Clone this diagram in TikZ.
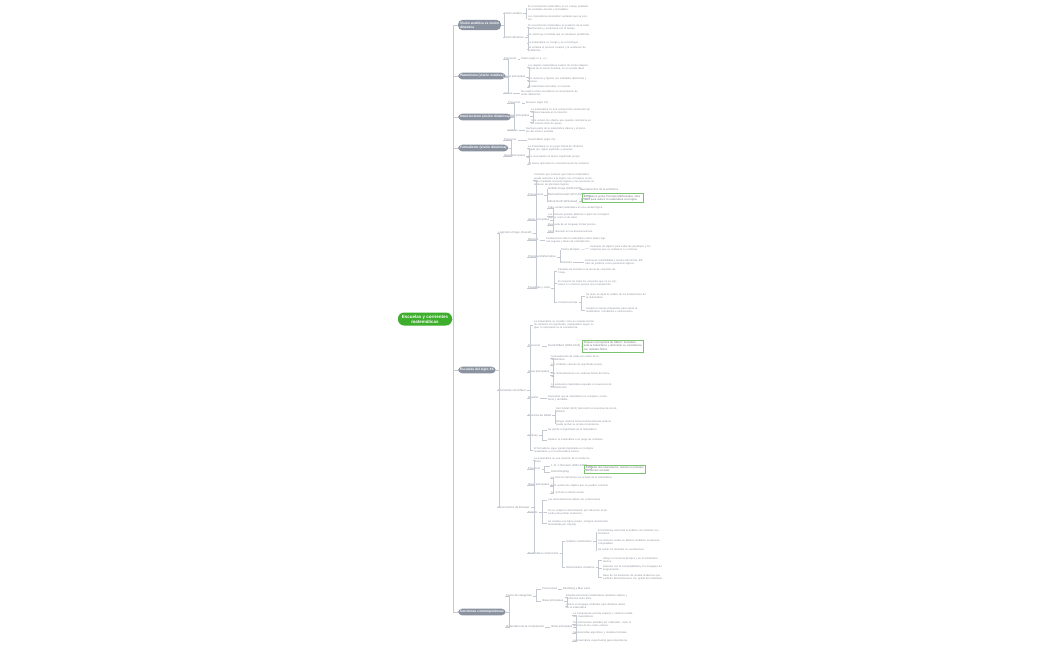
\documentclass[tikz,border=0pt]{standalone}
\usepackage{fontspec}
\setmainfont{Liberation Sans}
\definecolor{mainc}{HTML}{8B93A1}
\definecolor{txt}{HTML}{8A8F98}
\definecolor{lnc}{HTML}{C5CAD2}
\definecolor{rootc}{HTML}{3DAE2B}
\definecolor{boxc}{HTML}{7CC46F}
\begin{document}
\begin{tikzpicture}[x=1pt,y=-1pt,
 conn/.style={draw=lnc,line width=0.4pt},
 root/.style={fill=rootc,text=white,font=\fontsize{4.5}{5.2}\selectfont\bfseries,rounded corners=6pt,minimum width=54pt,minimum height=13pt,align=center,inner sep=2pt},
 main/.style={anchor=west,fill=mainc,text=white,font=\fontsize{3.3}{4}\selectfont\bfseries,rounded corners=4pt,inner sep=1.8pt,align=left},
 sub/.style={anchor=west,text=txt,font=\fontsize{2.8}{3.3}\selectfont,inner sep=1pt,align=left},
 leaf/.style={anchor=west,text=txt,font=\fontsize{2.6}{3.2}\selectfont,inner sep=1pt,align=left,text width=62pt},
 box/.style={anchor=west,draw=boxc,text=txt!80!black,font=\fontsize{2.7}{3.3}\selectfont,inner sep=1.5pt,align=left,text width=58pt,line width=0.5pt}]
\useasboundingbox (0,0) rectangle (1050,650);
\newcommand\nd[5]{\node[#1] (#2) at (#3,#4) {#5};}
\newcommand\cn[2]{\draw[conn] (#1.east) -- ++(3,0) |- (#2.west);}
\newcommand\cc[2]{\draw[conn] (#1.east) -- (#2.west);}
% root
\nd{root}{root}{425}{319}{Escuelas y corrientes\\matemáticas}
% main
\nd{main}{m1}{458}{25}{Visión analítica vs visión\\dinámica}
\nd{main}{m2}{458}{76}{Platonismo (visión estática)}
\nd{main}{m3}{458}{117}{Intuicionismo (visión dinámica)}
\nd{main}{m4}{458}{148}{Formalismo (visión dinámica)}
\nd{main}{m5}{458}{370}{Escuelas del siglo XX}
\nd{main}{m6}{458}{612}{Corrientes contemporáneas}
\foreach \m in {m1,m2,m3,m4,m5,m6}{\draw[conn] (root.east) -- (453,319) |- (\m.west);}
% branch 1
\nd{sub}{a1}{503}{13}{Visión estática}
\nd{sub}{a2}{503}{37}{Visión dinámica}
\cn{m1}{a1}\cn{m1}{a2}
\nd{leaf}{a11}{527}{8}{El conocimiento matemático es un cuerpo acabado de verdades eternas e inmutables.}
\nd{leaf}{a12}{527}{18}{Los matemáticos descubren verdades que ya existen.}
\cn{a1}{a11}\cn{a1}{a12}
\nd{leaf}{a21}{527}{27}{El conocimiento matemático es producto de la actividad humana y evoluciona con el tiempo.}
\nd{leaf}{a22}{527}{35}{Se construye a medida que se resuelven problemas.}
\nd{leaf}{a23}{527}{43}{La matemática se corrige y se reconstruye.}
\nd{leaf}{a24}{527}{49}{Se enfatiza el proceso creativo y la resolución de problemas.}
\cn{a2}{a21}\cn{a2}{a22}\cn{a2}{a23}\cn{a2}{a24}
% branch 2
\nd{sub}{b1}{503}{59}{Precursor}
\nd{sub}{b2}{503}{77}{Ideas principales}
\nd{sub}{b3}{503}{93}{Crítica}
\cn{m2}{b1}\cn{m2}{b2}\cn{m2}{b3}
\nd{leaf}{b11}{520}{59}{Platón (siglo IV a. C.)}\cc{b1}{b11}
\nd{leaf}{b21}{527}{67}{Los objetos matemáticos existen de forma independiente de la mente humana, en un mundo ideal.}
\nd{leaf}{b22}{527}{80}{Los números y figuras son entidades abstractas y eternas.}
\nd{leaf}{b23}{527}{87}{El matemático descubre, no inventa.}
\cn{b2}{b21}\cn{b2}{b22}\cn{b2}{b23}
\nd{leaf}{b31}{520}{93}{No explica cómo accedemos al conocimiento de entes abstractos.}\cc{b3}{b31}
% branch 3
\nd{sub}{c1}{507}{103}{Precursor}
\nd{sub}{c2}{507}{116}{Ideas principales}
\nd{sub}{c3}{507}{130}{Críticas}
\cn{m3}{c1}\cn{m3}{c2}\cn{m3}{c3}
\nd{leaf}{c11}{525}{103}{Brouwer (siglo XX)}\cc{c1}{c11}
\nd{leaf}{c21}{530}{111}{La matemática es una construcción mental del ser humano basada en la intuición.}
\nd{leaf}{c22}{530}{122}{Solo existen los objetos que pueden construirse en un número finito de pasos.}
\cn{c2}{c21}\cn{c2}{c22}
\nd{leaf}{c31}{525}{130}{Rechaza parte de la matemática clásica y el principio del tercero excluido.}\cc{c3}{c31}
% branch 4
\nd{sub}{d1}{503}{140}{Precursor}
\nd{sub}{d2}{503}{156}{Ideas principales}
\cn{m4}{d1}\cn{m4}{d2}
\nd{leaf}{d11}{527}{140}{David Hilbert (siglo XX)}\cc{d1}{d11}
\nd{leaf}{d21}{527}{148}{La matemática es un juego formal de símbolos regido por reglas explícitas y axiomas.}
\nd{leaf}{d22}{527}{157}{Los enunciados no tienen significado propio.}
\nd{leaf}{d23}{527}{164}{Se busca demostrar la consistencia de los sistemas.}
\cn{d2}{d21}\cn{d2}{d22}\cn{d2}{d23}
% branch 5
\nd{sub}{e1}{497}{233}{Logicismo (Frege, Russell)}
\nd{sub}{e2}{497}{390}{Formalismo de Hilbert}
\nd{sub}{e3}{497}{507}{Intuicionismo de Brouwer}
\cn{m5}{e1}\cn{m5}{e2}\cn{m5}{e3}
% e1
\nd{leaf}{e10}{533}{180}{Corriente que sostiene que toda la matemática puede reducirse a la lógica; sus conceptos se definen mediante nociones lógicas y sus teoremas se deducen de principios lógicos.}
\nd{sub}{e11}{527}{195}{Precursores}
\nd{sub}{e12}{527}{220}{Ideas principales}
\nd{sub}{e13}{527}{240}{Objetivo}
\nd{sub}{e14}{527}{257}{Principia Mathematica}
\nd{sub}{e15}{527}{288}{Paradojas y crisis}
\cn{e1}{e10}\cn{e1}{e11}\cn{e1}{e12}\cn{e1}{e13}\cn{e1}{e14}\cn{e1}{e15}
\nd{sub}{e111}{547}{189}{Gottlob Frege (1848-1925)}
\nd{sub}{e112}{547}{195}{Bertrand Russell (1872-1970)}
\nd{sub}{e113}{547}{201}{Alfred North Whitehead}
\cn{e11}{e111}\cn{e11}{e112}\cn{e11}{e113}
\nd{sub}{e1111}{580}{189}{Fundamentos de la aritmética}\cc{e111}{e1111}
\nd{box}{e1b}{582}{198}{Escribieron juntos Principia Mathematica, obra clave para reducir la matemática a la lógica.}
\draw[conn] (e112.east) -- ++(3,0) |- (e1b.west); \draw[conn] (e113.east) -- ++(3,0) |- (e1b.west);
\nd{leaf}{e121}{547}{208}{Toda verdad matemática es una verdad lógica.}
\nd{leaf}{e122}{547}{216}{Los números pueden definirse a partir de conceptos lógicos como el de clase.}
\nd{leaf}{e123}{547}{225}{Búsqueda de un lenguaje formal preciso.}
\nd{leaf}{e124}{547}{232}{Rigor absoluto en las demostraciones.}
\cn{e12}{e121}\cn{e12}{e122}\cn{e12}{e123}\cn{e12}{e124}
\nd{leaf}{e131}{545}{240}{Fundamentar toda la matemática sobre bases lógicas seguras y libres de contradicción.}\cc{e13}{e131}
\nd{sub}{e141}{560}{250}{Teoría de tipos}
\nd{sub}{e142}{560}{262}{Axiomas}
\cn{e14}{e141}\cn{e14}{e142}
\nd{leaf}{e1411}{589}{248}{Jerarquía de objetos para evitar las paradojas y los conjuntos que se contienen a sí mismos.}\cc{e141}{e1411}
\nd{leaf}{e1421}{584}{262}{Axioma de reducibilidad y axioma del infinito, difíciles de justificar como puramente lógicos.}\cc{e142}{e1421}
\nd{leaf}{e151}{557}{271}{Paradoja de Russell en la teoría de conjuntos de Frege.}
\nd{leaf}{e152}{557}{283}{El conjunto de todos los conjuntos que no se contienen a sí mismos genera una contradicción.}
\nd{sub}{e153}{557}{302}{Consecuencias}
\cn{e15}{e151}\cn{e15}{e152}\cn{e15}{e153}
\nd{leaf}{e1531}{585}{296}{Se puso en duda la solidez de los fundamentos de la matemática.}
\nd{leaf}{e1532}{585}{310}{Surgieron nuevas propuestas para salvar la matemática: formalismo e intuicionismo.}
\cn{e153}{e1531}\cn{e153}{e1532}
% e2
\nd{leaf}{e20}{533}{325}{La matemática se concibe como un sistema formal de símbolos sin significado, manipulados según reglas; lo importante es la consistencia.}
\nd{sub}{e21}{527}{346}{Precursor}
\nd{sub}{e22}{527}{372}{Ideas principales}
\nd{sub}{e23}{527}{398}{Objetivo}
\nd{sub}{e24}{527}{415}{Teorema de Gödel}
\nd{sub}{e25}{527}{435}{Críticas}
\nd{leaf}{e26}{533}{450}{El formalismo sigue siendo importante en la lógica matemática y en la informática teórica.}
\cn{e2}{e20}\cn{e2}{e21}\cn{e2}{e22}\cn{e2}{e23}\cn{e2}{e24}\cn{e2}{e25}\cn{e2}{e26}
\nd{sub}{e211}{547}{346}{David Hilbert (1862-1943)}\cc{e21}{e211}
\nd{box}{e2b}{582}{346}{Propuso el programa de Hilbert: formalizar toda la matemática y demostrar su consistencia con métodos finitos.}
\cc{e211}{e2b}
\nd{leaf}{e221}{550}{358}{Axiomatización de todas las ramas de la matemática.}
\nd{leaf}{e222}{550}{365}{Los símbolos carecen de significado propio.}
\nd{leaf}{e223}{550}{375}{Las demostraciones son cadenas finitas de fórmulas.}
\nd{leaf}{e224}{550}{386}{La existencia matemática equivale a la ausencia de contradicción.}
\cn{e22}{e221}\cn{e22}{e222}\cn{e22}{e223}\cn{e22}{e224}
\nd{leaf}{e231}{547}{398}{Demostrar que la matemática es completa, consistente y decidible.}\cc{e23}{e231}
\nd{leaf}{e241}{555}{410}{Kurt Gödel (1931) demostró los teoremas de incompletitud.}
\nd{leaf}{e242}{555}{423}{Ningún sistema formal suficientemente potente puede probar su propia consistencia.}
\cn{e24}{e241}\cn{e24}{e242}
\nd{leaf}{e251}{547}{430}{Se pierde el significado de la matemática.}
\nd{leaf}{e252}{547}{440}{Reduce la matemática a un juego de símbolos.}
\cn{e25}{e251}\cn{e25}{e252}
% e3
\nd{leaf}{e30}{533}{460}{La matemática es una creación de la mente humana.}
\nd{sub}{e31}{527}{469}{Precursor}
\nd{sub}{e32}{527}{485}{Ideas principales}
\nd{sub}{e33}{527}{512}{Método}
\nd{sub}{e34}{527}{553}{Matemática constructiva}
\cn{e3}{e30}\cn{e3}{e31}\cn{e3}{e32}\cn{e3}{e33}\cn{e3}{e34}
\nd{sub}{e311}{550}{466}{L. E. J. Brouwer (1881-1966)}
\nd{sub}{e312}{550}{472}{Arend Heyting}
\cn{e31}{e311}\cn{e31}{e312}
\nd{box}{e3b}{584}{469}{Fundador del intuicionismo; rechazó el principio del tercero excluido.}
\draw[conn] (e311.east) -- ++(3,0) |- (e3b.west);
\nd{leaf}{e321}{550}{478}{La intuición del tiempo es la base de la matemática.}
\nd{leaf}{e322}{550}{486}{Solo existen los objetos que se pueden construir.}
\nd{leaf}{e323}{550}{493}{Se rechaza el infinito actual.}
\cn{e32}{e321}\cn{e32}{e322}\cn{e32}{e323}
\nd{leaf}{e331}{547}{500}{Las demostraciones deben ser constructivas.}
\nd{leaf}{e332}{547}{512}{No se acepta la demostración por reducción al absurdo para probar existencia.}
\nd{leaf}{e333}{547}{523}{Se emplea una lógica propia: la lógica intuicionista formalizada por Heyting.}
\cn{e33}{e331}\cn{e33}{e332}\cn{e33}{e333}
\nd{sub}{e341}{565}{541}{Análisis constructivo}
\nd{sub}{e342}{565}{567}{Intuicionismo moderno}
\cn{e34}{e341}\cn{e34}{e342}
\nd{leaf}{e3411}{597}{532}{Errett Bishop reformuló el análisis con métodos constructivos.}
\nd{leaf}{e3412}{597}{542}{Los números reales se definen mediante sucesiones computables.}
\nd{leaf}{e3413}{597}{550}{Se evitan los métodos no constructivos.}
\cn{e341}{e3411}\cn{e341}{e3412}\cn{e341}{e3413}
\nd{leaf}{e3421}{602}{560}{Influye en la teoría de tipos y en la informática teórica.}
\nd{leaf}{e3422}{602}{568}{Relación con la computabilidad y los lenguajes de programación.}
\nd{leaf}{e3423}{602}{577}{Base de los asistentes de prueba modernos que verifican demostraciones con ayuda del ordenador.}
\cn{e342}{e3421}\cn{e342}{e3422}\cn{e342}{e3423}
% branch 6
\nd{sub}{f1}{505}{596}{Teoría de categorías}
\nd{sub}{f2}{505}{627}{Matemática de la computación}
\cn{m6}{f1}\cn{m6}{f2}
\nd{sub}{f11}{541}{589}{Precursores}
\nd{sub}{f12}{541}{601}{Ideas principales}
\cn{f1}{f11}\cn{f1}{f12}
\nd{sub}{f111}{562}{589}{Eilenberg y Mac Lane}\cc{f11}{f111}
\nd{leaf}{f121}{565}{597}{Estudia estructuras matemáticas mediante objetos y morfismos entre ellos.}
\nd{leaf}{f122}{565}{606}{Ofrece un lenguaje unificador para distintas ramas de la matemática.}
\cn{f12}{f121}\cn{f12}{f122}
\nd{sub}{f21}{550}{627}{Ideas principales}\cc{f2}{f21}
\nd{leaf}{f211}{572}{615}{La computación permite explorar y verificar resultados matemáticos.}
\nd{leaf}{f212}{572}{624}{Demostraciones asistidas por ordenador, como el teorema de los cuatro colores.}
\nd{leaf}{f213}{572}{633}{Se desarrollan algoritmos y modelos formales.}
\nd{leaf}{f214}{572}{641}{La matemática experimental gana importancia.}
\cn{f21}{f211}\cn{f21}{f212}\cn{f21}{f213}\cn{f21}{f214}
\end{tikzpicture}
\end{document}
